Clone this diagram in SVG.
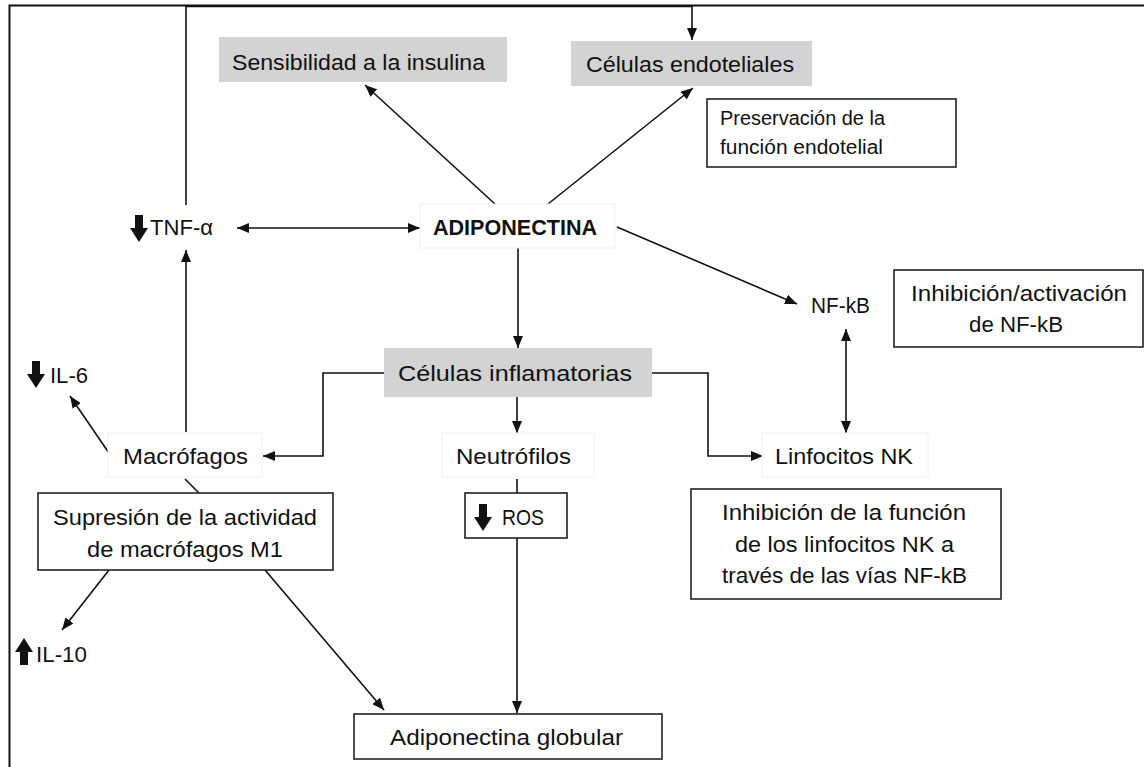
<svg xmlns="http://www.w3.org/2000/svg" xmlns:xlink="http://www.w3.org/1999/xlink" width="1144" height="767" viewBox="0 0 1144 767">
  <defs>
    <style>
      .t { font-family: "Liberation Sans", Arial, sans-serif; font-size: 22px; fill: #111; }
      .s { font-size: 20px; }
      .b { font-weight: bold; }
      .gray { fill: #d3d3d3; stroke: none; }
      .box { fill: #fff; stroke: #222; stroke-width: 1.6; }
      .faint { fill: #fff; stroke: #f0f0f0; stroke-width: 1; }
      .c { fill: none; stroke: #111; stroke-width: 1.6; }
      .ic { fill: #111; }
    </style>
    <marker id="ah" viewBox="0 0 12 10" refX="12" refY="5" markerWidth="12" markerHeight="10" markerUnits="userSpaceOnUse" orient="auto-start-reverse">
      <path d="M0,0 L12,5 L0,10 Z" fill="#111"/>
    </marker>
    <path id="down" d="M5,0 H13 V13 H18 L9,27 L0,13 H5 Z"/>
  </defs>

  <rect width="1144" height="767" fill="#fff"/>

  <!-- outer frame -->
  <g id="frame">
    <path d="M9.5,767 V5.5 H1144" fill="none" stroke="#111" stroke-width="2"/>
  </g>

  <!-- connectors -->
  <g id="connectors">
    <path class="c" d="M186,205 V6.5 H692 V40" marker-end="url(#ah)" stroke-width="2.2"/>
    <path class="c" d="M237,228 H420" marker-start="url(#ah)" marker-end="url(#ah)"/>
    <path class="c" d="M495,204 L365,85" marker-end="url(#ah)"/>
    <path class="c" d="M543,208 L693,88" marker-end="url(#ah)"/>
    <path class="c" d="M617,227 L797,304" marker-end="url(#ah)"/>
    <path class="c" d="M518,248 V348" marker-end="url(#ah)"/>
    <path class="c" d="M384,373 H323 V456 H263" marker-end="url(#ah)"/>
    <path class="c" d="M652,373 H708 V456 H763" marker-end="url(#ah)"/>
    <path class="c" d="M517,397 V433" marker-end="url(#ah)"/>
    <path class="c" d="M846,329 V433" marker-start="url(#ah)" marker-end="url(#ah)"/>
    <path class="c" d="M186,432 V250" marker-end="url(#ah)"/>
    <path class="c" d="M111,456 L70,396" marker-end="url(#ah)"/>
    <path class="c" d="M185,479 L199,493"/>
    <path class="c" d="M517,479 V493"/>
    <path class="c" d="M517,538 V713" marker-end="url(#ah)"/>
    <path class="c" d="M109,570 L62,630" marker-end="url(#ah)"/>
    <path class="c" d="M265,570 L384,710" marker-end="url(#ah)"/>
  </g>

  <g id="sensibilidad">
    <rect class="gray" x="219" y="37" width="288" height="45"/>
    <text class="t" x="232" y="70" textLength="253" lengthAdjust="spacingAndGlyphs">Sensibilidad  a la insulina</text>
  </g>

  <g id="endoteliales">
    <rect class="gray" x="571" y="41" width="241" height="45"/>
    <text class="t" x="586" y="72" textLength="208" lengthAdjust="spacingAndGlyphs">Células  endoteliales</text>
  </g>

  <g id="preservacion">
    <rect class="box" x="707" y="99" width="249" height="68"/>
    <text class="t s" x="720" y="125" textLength="165" lengthAdjust="spacingAndGlyphs">Preservación de la</text>
    <text class="t s" x="720" y="154" textLength="163" lengthAdjust="spacingAndGlyphs">función endotelial</text>
  </g>

  <g id="tnf">
    <use href="#down" class="ic" x="130" y="215"/>
    <text class="t" x="150" y="235" textLength="63" lengthAdjust="spacingAndGlyphs">TNF-α</text>
  </g>

  <g id="adiponectina">
    <rect class="faint" x="420" y="204" width="195" height="44"/>
    <text class="t b" x="433" y="235" textLength="164" lengthAdjust="spacingAndGlyphs">ADIPONECTINA</text>
  </g>

  <g id="nfkb">
    <text class="t" x="811" y="313" textLength="59" lengthAdjust="spacingAndGlyphs">NF-kB</text>
  </g>

  <g id="inhib-activ">
    <rect class="box" x="894" y="270" width="249" height="77"/>
    <text class="t" x="911" y="301" textLength="216" lengthAdjust="spacingAndGlyphs">Inhibición/activación</text>
    <text class="t" x="969" y="332" textLength="94" lengthAdjust="spacingAndGlyphs">de  NF-kB</text>
  </g>

  <g id="inflamatorias">
    <rect class="gray" x="384" y="348" width="268" height="49"/>
    <text class="t" x="398" y="381" textLength="234" lengthAdjust="spacingAndGlyphs">Células  inflamatorias</text>
  </g>

  <g id="il6">
    <use href="#down" class="ic" x="27" y="361"/>
    <text class="t" x="50" y="383" textLength="38" lengthAdjust="spacingAndGlyphs">IL-6</text>
  </g>

  <g id="macrofagos">
    <rect class="faint" x="108" y="433" width="154" height="44"/>
    <text class="t" x="123" y="464" textLength="125" lengthAdjust="spacingAndGlyphs">Macrófagos</text>
  </g>

  <g id="neutrofilos">
    <rect class="faint" x="442" y="433" width="152" height="44"/>
    <text class="t" x="456" y="464" textLength="115" lengthAdjust="spacingAndGlyphs">Neutrófilos</text>
  </g>

  <g id="linfocitos">
    <rect class="faint" x="762" y="433" width="166" height="44"/>
    <text class="t" x="775" y="464" textLength="138" lengthAdjust="spacingAndGlyphs">Linfocitos  NK</text>
  </g>

  <g id="supresion">
    <rect class="box" x="38" y="493" width="295" height="77"/>
    <text class="t" x="53" y="525" textLength="264" lengthAdjust="spacingAndGlyphs">Supresión  de la actividad</text>
    <text class="t" x="87" y="557" textLength="196" lengthAdjust="spacingAndGlyphs">de  macrófagos M1</text>
  </g>

  <g id="ros">
    <rect class="box" x="465" y="493" width="102" height="45"/>
    <use href="#down" class="ic" x="474" y="504"/>
    <text class="t" x="502" y="525" textLength="42" lengthAdjust="spacingAndGlyphs">ROS</text>
  </g>

  <g id="inhib-funcion">
    <rect class="box" x="691" y="489" width="310" height="110"/>
    <text class="t" x="722" y="520" textLength="244" lengthAdjust="spacingAndGlyphs">Inhibición  de la función</text>
    <text class="t" x="735" y="552" textLength="219" lengthAdjust="spacingAndGlyphs">de los linfocitos NK a</text>
    <text class="t" x="722" y="583" textLength="245" lengthAdjust="spacingAndGlyphs">través de las vías NF-kB</text>
  </g>

  <g id="il10">
    <use href="#down" class="ic" transform="translate(15,665) scale(1,-1)"/>
    <text class="t" x="36" y="662" textLength="51" lengthAdjust="spacingAndGlyphs">IL-10</text>
  </g>

  <g id="globular">
    <rect class="box" x="354" y="714" width="308" height="45"/>
    <text class="t" x="390" y="745" textLength="233" lengthAdjust="spacingAndGlyphs">Adiponectina  globular</text>
  </g>
</svg>
